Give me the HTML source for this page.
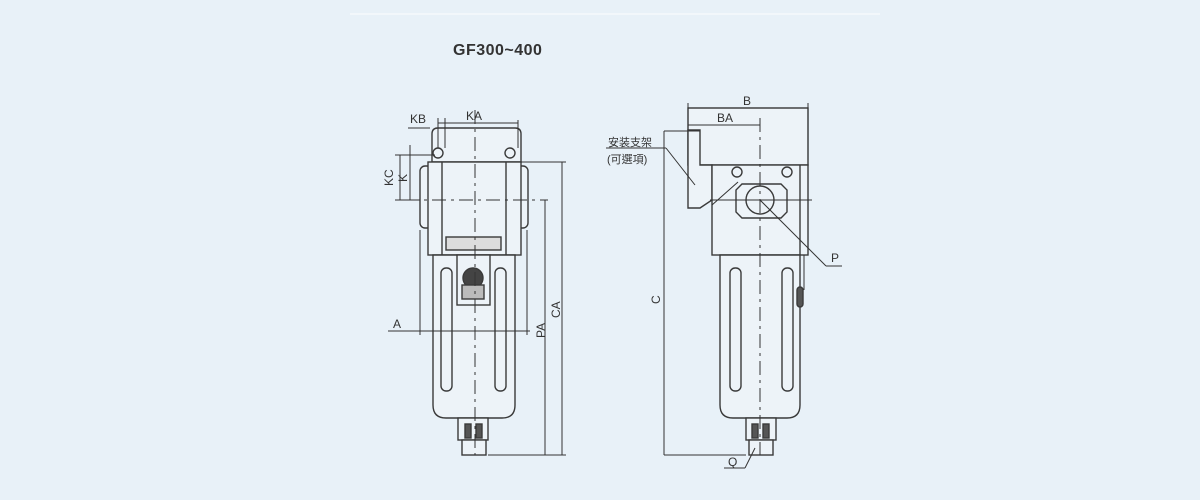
<!DOCTYPE html>
<html><head><style>
html,body{margin:0;padding:0;background:#e8f1f8;}
svg{display:block}
text{font-family:"Liberation Sans","Noto Sans CJK TC",sans-serif;fill:#333}
</style></head><body>
<svg width="1200" height="500" viewBox="0 0 1200 500">
<rect width="1200" height="500" fill="#e8f1f8"/>
<line x1="350" y1="14" x2="880" y2="14" stroke="#f2f7fb" stroke-width="2"/>
<text x="453" y="55" font-size="16" font-weight="bold" fill="#222" letter-spacing="0.5">GF300~400</text>

<g fill="#edf3f8" stroke="#3a3a3a" stroke-width="1.4">
<!-- LEFT VIEW -->
<path d="M432 162 V134 q0-6 6-6 h77 q6 0 6 6 V162 Z"/>
<circle cx="438" cy="153" r="5"/><circle cx="510" cy="153" r="5"/>
<rect x="420" y="166" width="12" height="62" rx="5"/>
<rect x="516" y="166" width="12" height="62" rx="5"/>
<rect x="428" y="162" width="93" height="93"/>
<line x1="442" y1="162" x2="442" y2="255"/><line x1="506" y1="162" x2="506" y2="255"/>
<rect x="446" y="237" width="55" height="13" fill="#ddd"/>
<path d="M433 255 H515 V405 q0 13 -13 13 H446 q-13 0 -13 -13 Z"/>
<rect x="457" y="255" width="33" height="50"/>
<circle cx="473" cy="278" r="10" fill="#444"/>
<rect x="462" y="285" width="22" height="14" fill="#bbb"/>
<rect x="441" y="268" width="11" height="123" rx="5"/>
<rect x="495" y="268" width="11" height="123" rx="5"/>
<rect x="458" y="418" width="30" height="22"/>
<rect x="462" y="440" width="24" height="15"/>
<rect x="465" y="424" width="6" height="14" fill="#555"/><rect x="476" y="424" width="6" height="14" fill="#555"/>

<!-- RIGHT VIEW -->
<rect x="688" y="108" width="120" height="57"/>
<path d="M688 130 H700 V165 H712 V200 L700 208 H688 Z"/>
<rect x="712" y="165" width="96" height="90"/>
<line x1="800" y1="165" x2="800" y2="255"/>
<circle cx="737" cy="172" r="5"/><circle cx="787" cy="172" r="5"/>
<path d="M742 184 H781 L787 190 V212 L781 218 H742 L736 212 V190 Z"/>
<circle cx="760" cy="200" r="14"/>
<path d="M720 255 H800 V405 q0 13 -13 13 H733 q-13 0 -13 -13 Z"/>
<rect x="730" y="268" width="11" height="123" rx="5"/>
<rect x="782" y="268" width="11" height="123" rx="5"/>
<rect x="797" y="287" width="6" height="20" rx="3" fill="#555"/>
<rect x="746" y="418" width="30" height="22"/>
<rect x="749" y="440" width="24" height="15"/>
<rect x="752" y="424" width="6" height="14" fill="#555"/><rect x="763" y="424" width="6" height="14" fill="#555"/>
</g>

<g stroke="#333" stroke-width="1" fill="none">
<line x1="475" y1="110" x2="475" y2="455" stroke-dasharray="14,5,3,5"/>
<line x1="405" y1="200" x2="548" y2="200" stroke-dasharray="14,5,3,5"/>
<line x1="760" y1="118" x2="760" y2="455" stroke-dasharray="14,5,3,5"/>
<line x1="710" y1="200" x2="812" y2="200"/>
<line x1="438" y1="123" x2="518" y2="123"/>
<line x1="518" y1="120" x2="518" y2="148"/>
<line x1="438" y1="118" x2="438" y2="148"/>
<line x1="445" y1="118" x2="445" y2="148"/>
<line x1="408" y1="128" x2="430" y2="128"/>
<line x1="395" y1="155" x2="435" y2="155"/>
<line x1="395" y1="200" x2="420" y2="200"/>
<line x1="410" y1="145" x2="410" y2="200"/>
<line x1="400" y1="155" x2="400" y2="200"/>
<line x1="521" y1="162" x2="566" y2="162"/>
<line x1="562" y1="162" x2="562" y2="455"/>
<line x1="545" y1="200" x2="545" y2="455"/>
<line x1="488" y1="455" x2="566" y2="455"/>
<line x1="388" y1="331" x2="530" y2="331"/>
<line x1="420" y1="230" x2="420" y2="335"/>
<line x1="527" y1="230" x2="527" y2="335"/>
<line x1="688" y1="108" x2="808" y2="108"/>
<line x1="688" y1="103" x2="688" y2="130"/><line x1="808" y1="103" x2="808" y2="160"/>
<line x1="688" y1="125" x2="760" y2="125"/>
<line x1="664" y1="131" x2="700" y2="131"/>
<line x1="664" y1="131" x2="664" y2="455"/>
<line x1="664" y1="455" x2="746" y2="455"/>
<line x1="606" y1="148" x2="666" y2="148"/>
<line x1="666" y1="148" x2="695" y2="185"/>
<line x1="712" y1="205" x2="738" y2="182"/>
<line x1="760" y1="200" x2="826" y2="266"/><line x1="826" y1="266" x2="842" y2="266"/>
<line x1="755" y1="448" x2="745" y2="468"/><line x1="745" y1="468" x2="724" y2="468"/>
<line x1="804" y1="255" x2="804" y2="290"/>
</g>
<g font-size="12">
<text x="410" y="123">KB</text>
<text x="466" y="120">KA</text>
<text x="393" y="186" transform="rotate(-90 393 186)">KC</text>
<text x="407" y="182" transform="rotate(-90 407 182)">K</text>
<text x="393" y="328">A</text>
<text x="545" y="338" transform="rotate(-90 545 338)">PA</text>
<text x="560" y="318" transform="rotate(-90 560 318)">CA</text>
<text x="743" y="105">B</text>
<text x="717" y="122">BA</text>
<text x="608" y="146" font-size="11">安装支架</text>
<text x="607" y="163" font-size="11">(可選項)</text>
<text x="660" y="304" transform="rotate(-90 660 304)">C</text>
<text x="831" y="262">P</text>
<text x="728" y="466">Q</text>
</g>
</svg>
</body></html>
